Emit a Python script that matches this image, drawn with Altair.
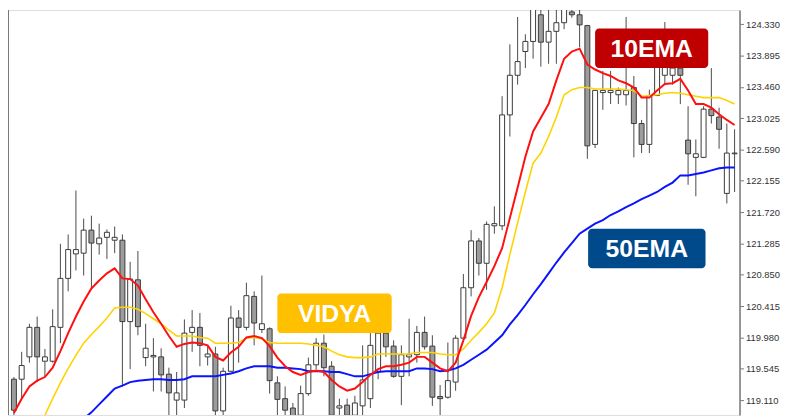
import altair as alt
import pandas as pd

# ---- candle data (price values) ----
opens = [119.40, 119.40, 119.71, 120.12, 119.65, 119.65, 120.12, 120.80, 121.14, 121.15,
         121.47, 121.28, 121.37, 121.33, 121.33, 120.20, 120.78, 119.70, 119.71, 119.71,
         119.47, 119.11, 119.11, 120.05, 120.12, 119.71, 119.75, 118.96, 119.51, 120.25,
         120.12, 120.55, 120.09, 120.10, 119.35, 119.13, 119.00, 118.90, 119.20, 119.60,
         119.90, 119.58, 119.00, 119.04, 118.90, 119.03, 119.13, 119.51, 120.04, 119.86,
         119.44, 119.71, 119.74, 120.05, 119.86, 119.16, 119.15, 119.36, 119.97, 120.67,
         121.32, 121.01, 121.53, 121.53, 123.07, 123.62, 123.95, 124.09, 124.46, 124.08,
         124.23, 124.35, 124.50, 124.46, 124.31, 122.66, 123.38, 123.38, 123.35, 123.35,
         123.45, 122.95, 122.66, 123.34, 123.62, 123.62, 123.72, 122.72, 122.48, 122.48,
         123.15, 123.04, 121.98, 122.53]
highs = [119.43, 119.78, 120.17, 120.27, 119.82, 120.37, 121.28, 121.41, 122.02, 121.63,
         121.67, 121.56, 121.48, 121.52, 121.41, 121.03, 121.18, 120.17, 119.97, 119.83,
         119.56, 119.50, 120.23, 120.36, 120.32, 119.86, 119.85, 119.56, 120.42, 120.36,
         120.74, 120.62, 120.84, 120.12, 119.44, 119.30, 119.07, 119.31, 119.70, 119.97,
         120.02, 119.65, 119.13, 119.13, 119.17, 119.87, 120.04, 120.18, 120.05, 119.94,
         119.87, 120.24, 120.14, 120.27, 120.01, 119.32, 119.91, 120.01, 120.86, 121.47,
         121.36, 121.59, 121.80, 123.33, 124.05, 124.43, 124.19, 124.66, 124.66, 124.63,
         124.63, 124.66, 124.59, 124.59, 124.32, 123.42, 123.68, 123.68, 123.45, 124.43,
         123.61, 123.00, 123.42, 124.12, 124.36, 123.76, 123.85, 123.19, 122.73, 123.19,
         123.72, 123.17, 122.95, 122.87]
lows = [118.86, 119.13, 119.63, 119.36, 119.44, 119.63, 119.90, 120.62, 120.91, 120.84,
        120.66, 121.13, 121.07, 121.15, 119.30, 119.54, 120.01, 119.58, 119.23, 119.23,
        118.86, 118.86, 119.00, 119.78, 119.58, 119.59, 118.86, 118.86, 119.50, 119.63,
        120.08, 119.87, 120.04, 119.20, 118.90, 118.86, 118.80, 118.80, 119.17, 119.54,
        119.44, 118.80, 118.86, 118.80, 118.80, 118.86, 119.00, 119.40, 119.71, 119.42,
        119.04, 119.44, 119.63, 119.81, 119.03, 118.86, 119.13, 119.24, 119.96, 120.55,
        120.84, 120.64, 121.42, 121.47, 122.77, 123.49, 123.72, 123.85, 123.74, 123.78,
        123.78, 124.26, 124.42, 124.01, 122.46, 122.61, 123.14, 123.22, 123.22, 123.20,
        122.48, 122.54, 122.54, 123.33, 123.49, 123.49, 123.22, 122.10, 121.94, 122.47,
        122.95, 122.60, 121.84, 122.00]
closes = [118.97, 119.59, 120.12, 119.71, 119.71, 120.13, 120.80, 121.20, 121.20, 121.47,
          121.29, 121.36, 121.44, 121.37, 120.20, 120.79, 120.13, 119.83, 119.73, 119.46,
          119.21, 119.21, 120.04, 120.12, 119.87, 119.75, 118.96, 119.51, 120.25, 120.12,
          120.56, 120.18, 120.17, 119.38, 119.12, 118.97, 118.86, 119.20, 119.60, 119.90,
          119.56, 118.90, 119.03, 118.90, 119.07, 119.39, 119.87, 120.04, 119.85, 119.44,
          119.74, 119.74, 120.05, 119.85, 119.15, 119.13, 119.38, 119.97, 120.67, 121.32,
          121.01, 121.55, 121.56, 123.07, 123.62, 123.81, 124.09, 124.59, 124.08, 124.23,
          124.35, 124.57, 124.46, 124.32, 122.64, 123.41, 123.41, 123.41, 123.41, 123.41,
          122.95, 122.66, 123.34, 123.95, 123.78, 123.72, 123.62, 122.53, 122.53, 123.15,
          123.06, 122.87, 122.54, 122.54]

# ---- indicator lines ----
ema10 = [118.93, 119.13, 119.30, 119.38, 119.43, 119.56, 119.79, 120.04, 120.27, 120.48,
         120.66, 120.77, 120.87, 120.94, 120.80, 120.79, 120.70, 120.51, 120.33, 120.17,
         120.00, 119.85, 119.89, 119.91, 119.90, 119.87, 119.71, 119.66, 119.77, 119.85,
         119.98, 120.00, 119.97, 119.86, 119.70, 119.58, 119.50, 119.46, 119.50, 119.52,
         119.50, 119.39, 119.30, 119.24, 119.27, 119.36, 119.46, 119.54, 119.58, 119.58,
         119.60, 119.63, 119.71, 119.71, 119.63, 119.55, 119.51, 119.63, 119.94, 120.28,
         120.54, 120.75, 120.97, 121.22, 121.64, 122.06, 122.49, 122.84, 123.03, 123.22,
         123.55, 123.85, 123.95, 123.99, 123.77, 123.70, 123.65, 123.61, 123.55, 123.51,
         123.45, 123.31, 123.31, 123.41, 123.50, 123.51, 123.57, 123.41, 123.22, 123.22,
         123.17, 123.08, 123.00, 122.93]
vidya_start = 4
vidya = [118.90, 119.13, 119.35, 119.55, 119.73, 119.90, 120.02, 120.13, 120.25, 120.39,
         120.40, 120.40, 120.37, 120.31, 120.24, 120.17, 120.08, 120.00, 120.00, 120.00,
         119.98, 119.97, 119.90, 119.90, 119.90, 119.91, 119.97, 119.98, 119.96, 119.91,
         119.90, 119.90, 119.90, 119.90, 119.89, 119.87, 119.85, 119.79, 119.74, 119.71,
         119.70, 119.70, 119.71, 119.75, 119.75, 119.75, 119.75, 119.75, 119.77, 119.77,
         119.77, 119.75, 119.74, 119.74, 119.82, 119.94, 120.05, 120.17, 120.32, 120.67,
         121.13, 121.57, 122.00, 122.40, 122.54, 122.77, 123.04, 123.35, 123.42, 123.45,
         123.45, 123.43, 123.43, 123.43, 123.43, 123.42, 123.41, 123.33, 123.34, 123.35,
         123.37, 123.38, 123.37, 123.35, 123.33, 123.31, 123.31, 123.31, 123.27, 123.22]
ema50_start = 9
ema50 = [118.85, 118.94, 119.05, 119.16, 119.27, 119.31, 119.36, 119.38, 119.39, 119.40,
         119.40, 119.39, 119.39, 119.40, 119.44, 119.44, 119.44, 119.44, 119.46, 119.48,
         119.51, 119.55, 119.58, 119.58, 119.58, 119.56, 119.56, 119.55, 119.54, 119.51,
         119.51, 119.51, 119.50, 119.50, 119.47, 119.44, 119.44, 119.47, 119.50, 119.51,
         119.51, 119.51, 119.51, 119.55, 119.55, 119.54, 119.51, 119.52, 119.55, 119.60,
         119.67, 119.74, 119.81, 119.91, 120.01, 120.16, 120.29, 120.43, 120.58, 120.72,
         120.87, 121.02, 121.16, 121.29, 121.42, 121.49, 121.56, 121.61, 121.68, 121.73,
         121.79, 121.84, 121.90, 121.95, 122.00, 122.07, 122.13, 122.23, 122.23, 122.25,
         122.27, 122.30, 122.33, 122.34, 122.34]

tick_values = [119.110, 119.545, 119.980, 120.415, 120.850, 121.285, 121.720,
               122.155, 122.590, 123.025, 123.460, 123.895, 124.330]

# ---- annotation labels: text, colour, box (index / price) ----
label_text = ["10EMA", "50EMA", "VIDYA"]
label_color = ["#C00000", "#004A8C", "#FFC000"]
label_x1 = [75.0, 74.1, 34.0]
label_x2 = [89.6, 89.25, 48.75]
label_y1 = [124.27, 121.49, 120.59]
label_y2 = [123.72, 120.94, 120.04]

n = len(opens)
candles = pd.DataFrame({"i": list(range(n)), "open": opens, "high": highs,
                        "low": lows, "close": closes})
candles["dir"] = ["up" if c >= o else "down" for o, c in zip(opens, closes)]

line_rows = []
for k, v in enumerate(ema50):
    line_rows.append({"i": ema50_start + k, "v": v, "s": "50EMA"})
for k, v in enumerate(vidya):
    line_rows.append({"i": vidya_start + k, "v": v, "s": "VIDYA"})
for k, v in enumerate(ema10):
    line_rows.append({"i": k, "v": v, "s": "10EMA"})
lines = pd.DataFrame(line_rows)

labels = pd.DataFrame({"t": label_text, "c": label_color, "x1": label_x1, "x2": label_x2,
                       "y1": label_y1, "y2": label_y2})
labels["xm"] = (labels["x1"] + labels["x2"]) / 2
labels["ym"] = (labels["y1"] + labels["y2"]) / 2

x_scale = alt.Scale(domain=[-0.125, 93], nice=False, zero=False)
y_scale = alt.Scale(domain=[118.904, 124.5255], nice=False, zero=False)


def y_axis():
    return alt.Axis(orient="right", values=tick_values, format=".3f", tickSize=4,
                    tickColor="#7a7a7a", domainColor="#7a7a7a", domainWidth=1.5,
                    labelFont="Liberation Sans", labelFontSize=9.5, labelColor="#333333",
                    labelPadding=2, grid=False, title=None, labelOverlap=False)


wicks = alt.Chart(candles).mark_rule(color="#4a4a4a", strokeWidth=1, clip=True).encode(
    x=alt.X("i:Q", scale=x_scale, axis=None),
    y=alt.Y("low:Q", scale=y_scale, axis=y_axis()),
    y2="high:Q",
)

bodies = alt.Chart(candles).mark_bar(size=5, stroke="#3a3a3a", strokeWidth=1, clip=True).encode(
    x=alt.X("i:Q", scale=x_scale, axis=None),
    y=alt.Y("open:Q", scale=y_scale, axis=y_axis()),
    y2="close:Q",
    fill=alt.Fill("dir:N", scale=alt.Scale(domain=["up", "down"], range=["#ffffff", "#9c9c9c"]),
                  legend=None),
)


def line_layer(name, color, width):
    return alt.Chart(lines).transform_filter(alt.datum.s == name).mark_line(
        color=color, strokeWidth=width, clip=True).encode(
        x=alt.X("i:Q", scale=x_scale, axis=None),
        y=alt.Y("v:Q", scale=y_scale, axis=y_axis()),
    )


blue = line_layer("50EMA", "#0a14ff", 2)
yellow = line_layer("VIDYA", "#FFD200", 1.6)
red = line_layer("10EMA", "#FF1010", 2)

boxes = alt.Chart(labels).mark_rect(cornerRadius=4).encode(
    x=alt.X("x1:Q", scale=x_scale, axis=None), x2="x2:Q",
    y=alt.Y("y1:Q", scale=y_scale, axis=y_axis()), y2="y2:Q",
    fill=alt.Fill("c:N", scale=None),
)
texts = alt.Chart(labels).mark_text(font="Liberation Sans", fontWeight="bold", fontSize=25,
                                    color="white", align="center", baseline="middle", dy=1).encode(
    x=alt.X("xm:Q", scale=x_scale, axis=None),
    y=alt.Y("ym:Q", scale=y_scale, axis=y_axis()),
    text="t:N",
)

left_border = alt.Chart(candles).mark_rule(color="#7a7a7a", strokeWidth=1).encode(
    x=alt.value(0.5), y=alt.value(0), y2=alt.value(409)
)

chart = alt.layer(wicks, bodies, blue, yellow, red, boxes, texts, left_border).properties(
    width=739, height=409,
    autosize=alt.AutoSizeParams(type="none"),
    padding={"left": 0, "top": 0, "right": 53, "bottom": 0},
).configure_view(stroke=None).configure(background="white")

chart.save("out.html", embed_options={"renderer": "svg", "actions": False})
